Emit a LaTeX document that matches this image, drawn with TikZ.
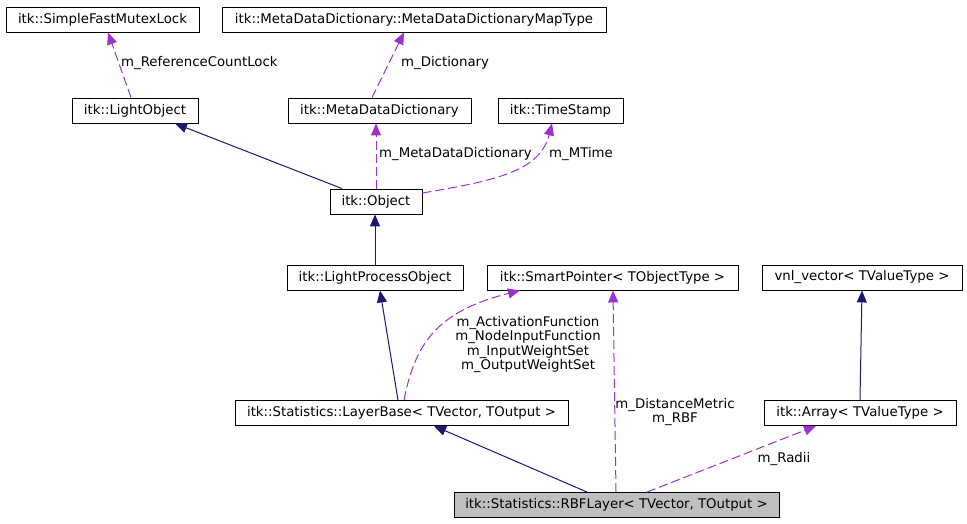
\documentclass[tikz,border=0pt]{standalone}
\usepackage{fontspec}
\setmainfont{DejaVu Sans}
\usetikzlibrary{arrows.meta}

\begin{document}
\begin{tikzpicture}[x=1pt,y=-1pt,
        clase/.style={draw, line width=0.9pt, minimum height=25pt, inner sep=0pt, font=\fontsize{13.3}{15}\selectfont},
        herencia/.style={azulH, line width=1pt, -{Triangle[length=12pt,width=10pt]}},
        uso/.style={moradoU, line width=1pt, dash pattern=on 9pt off 4pt, -{Triangle[length=12pt,width=10pt]}},
        etiqueta/.style={font=\fontsize{13.3}{14.3}\selectfont, inner sep=0pt, align=center}]
        \definecolor{azulH}{HTML}{191970}
        \definecolor{moradoU}{HTML}{9A32CD}
        \definecolor{grisR}{HTML}{BFBFBF}
        \useasboundingbox (0,0) rectangle (967,523);
        % clases
        \node[clase, minimum width=193pt] (mutex) at (102.5,19.5) {itk::SimpleFastMutexLock};
        \node[clase, minimum width=384pt] (mapa) at (414,19.5) {itk::MetaDataDictionary::MetaDataDictionaryMapType};
        \node[clase, minimum width=126pt] (luz) at (135,110.5) {itk::LightObject};
        \node[clase, minimum width=183pt] (diccionario) at (379.5,110.5) {itk::MetaDataDictionary};
        \node[clase, minimum width=125pt] (tiempo) at (560.5,110.5) {itk::TimeStamp};
        \node[clase, minimum width=92pt] (objeto) at (376,201.5) {itk::Object};
        \node[clase, minimum width=176pt] (proceso) at (375,277.5) {itk::LightProcessObject};
        \node[clase, minimum width=251pt] (puntero) at (612.5,277.5) {itk::SmartPointer< TObjectType >};
        \node[clase, minimum width=200pt] (vector) at (862,277.5) {vnl\_vector< TValueType >};
        \node[clase, minimum width=333pt] (capa) at (401.5,413) {itk::Statistics::LayerBase< TVector, TOutput >};
        \node[clase, minimum width=192pt] (arreglo) at (860,413) {itk::Array< TValueType >};
        \node[clase, minimum width=325pt, fill=grisR] (rbf) at (616.5,505) {itk::Statistics::RBFLayer< TVector, TOutput >};
        % herencia
        \draw[herencia] ([xshift=-34pt]objeto.north) -- ([xshift=40pt]luz.south);
        \draw[herencia] (proceso.north) -- ([xshift=-1pt]objeto.south);
        \draw[herencia] ([xshift=-3.5pt]capa.north) -- ([xshift=5pt]proceso.south);
        \draw[herencia] ([xshift=-29.5pt]rbf.north) -- ([xshift=32.5pt]capa.south);
        \draw[herencia] (arreglo.north) -- (vector.south);
        % miembros
        \draw[uso] ([xshift=-4pt]luz.north) -- ([xshift=5.5pt]mutex.south);
        \draw[uso] ([xshift=-7.5pt]diccionario.north) -- ([xshift=-10pt]mapa.south);
        \draw[uso] (objeto.north) -- ([xshift=-3.5pt]diccionario.south);
        \draw[uso] ([yshift=8.5pt]objeto.east) .. controls (500,180) and (540,170) .. ([xshift=-8.5pt]tiempo.south);
        \draw[uso] ([xshift=2.5pt]capa.north) .. controls (415,345) and (435,312) .. ([xshift=-92.5pt]puntero.south);
        \draw[uso] ([xshift=-0.5pt]rbf.north) -- ([xshift=0.5pt]puntero.south);
        \draw[uso] ([xshift=30.5pt]rbf.north) -- ([xshift=-44pt]arreglo.south);
        % etiquetas
        \node[etiqueta, anchor=west] (lblLock) at (121,63) {m\_ReferenceCountLock};
        \node[etiqueta, anchor=west] (lblDic) at (401,63) {m\_Dictionary};
        \node[etiqueta, anchor=west] (lblMeta) at (379,154) {m\_MetaDataDictionary};
        \node[etiqueta, anchor=west] (lblTime) at (549,154) {m\_MTime};
        \node[etiqueta] (lblFunc) at (528,344.5) {m\_ActivationFunction\\m\_NodeInputFunction\\m\_InputWeightSet\\m\_OutputWeightSet};
        \node[etiqueta] (lblRbf) at (675,412) {m\_DistanceMetric\\m\_RBF};
        \node[etiqueta] (lblRadii) at (784,459) {m\_Radii};
\end{tikzpicture}
\end{document}
